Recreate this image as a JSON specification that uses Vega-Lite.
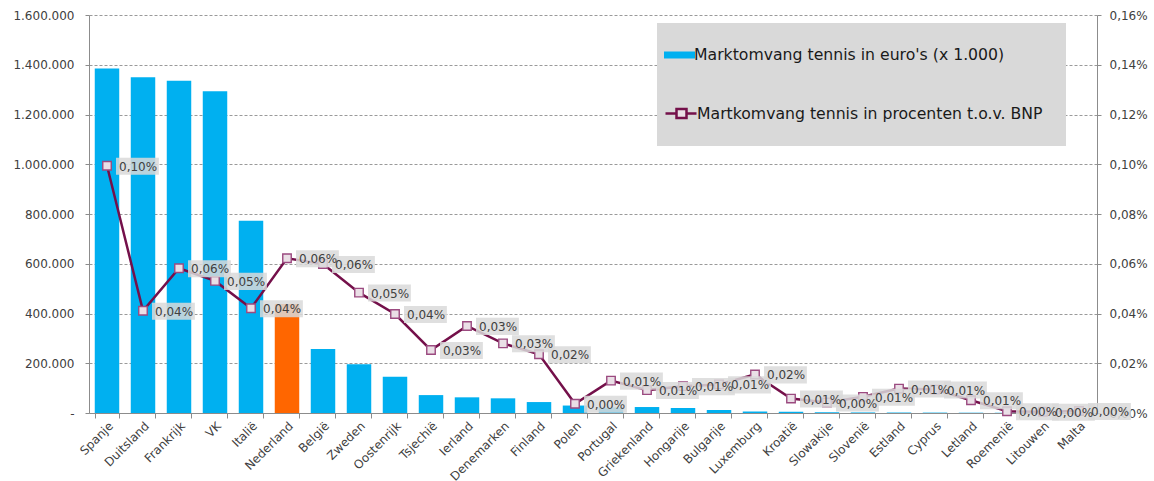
{
  "$schema": "https://vega.github.io/schema/vega-lite/v6.json",
  "width": 1008,
  "height": 398,
  "autosize": "none",
  "padding": {"left": 89, "top": 15, "right": 57, "bottom": 68},
  "background": "white",
  "config": {
    "font": "DejaVu Sans",
    "view": {"stroke": null},
    "axis": {"labelFont": "DejaVu Sans", "labelFontSize": 12, "labelColor": "#404040", "domainColor": "#8c8c8c", "tickColor": "#8c8c8c", "title": null}
  },
  "data": {"values": [
    {"land": "Spanje", "omvang": 1385000, "pct": 0.000994},
    {"land": "Duitsland", "omvang": 1350000, "pct": 0.000411},
    {"land": "Frankrijk", "omvang": 1336000, "pct": 0.000582},
    {"land": "VK", "omvang": 1293000, "pct": 0.000531},
    {"land": "Italië", "omvang": 773000, "pct": 0.000421},
    {"land": "Nederland", "omvang": 438000, "pct": 0.000622},
    {"land": "België", "omvang": 257000, "pct": 0.000599},
    {"land": "Zweden", "omvang": 196000, "pct": 0.000484},
    {"land": "Oostenrijk", "omvang": 146000, "pct": 0.000398},
    {"land": "Tsjechië", "omvang": 72000, "pct": 0.000253},
    {"land": "Ierland", "omvang": 63000, "pct": 0.00035},
    {"land": "Denemarken", "omvang": 59000, "pct": 0.00028},
    {"land": "Finland", "omvang": 44000, "pct": 0.000236},
    {"land": "Polen", "omvang": 30000, "pct": 0.000037},
    {"land": "Portugal", "omvang": 22000, "pct": 0.00013},
    {"land": "Griekenland", "omvang": 24000, "pct": 0.000092},
    {"land": "Hongarije", "omvang": 20000, "pct": 0.000108},
    {"land": "Bulgarije", "omvang": 12000, "pct": 0.000115},
    {"land": "Luxemburg", "omvang": 6000, "pct": 0.000155},
    {"land": "Kroatië", "omvang": 5000, "pct": 0.000058},
    {"land": "Slowakije", "omvang": 3000, "pct": 0.000042},
    {"land": "Slovenië", "omvang": 2300, "pct": 0.000065},
    {"land": "Estland", "omvang": 1900, "pct": 0.000098},
    {"land": "Cyprus", "omvang": 1600, "pct": 0.000094},
    {"land": "Letland", "omvang": 1200, "pct": 0.000051},
    {"land": "Roemenië", "omvang": 1000, "pct": 0.000007},
    {"land": "Litouwen", "omvang": 300, "pct": 0.000005},
    {"land": "Malta", "omvang": 100, "pct": 0.000008}
  ]},
  "layer": [
    {
      "mark": {"type": "bar"},
      "encoding": {
        "x": {"field": "land", "type": "nominal", "sort": null,
          "scale": {"paddingInner": 0.32, "paddingOuter": 0.16},
          "axis": {"title": null, "labelAngle": -45, "tickBand": "extent", "tickSize": 5, "labelPadding": 2, "grid": false}},
        "y": {"field": "omvang", "type": "quantitative",
          "scale": {"domain": [0, 1600000], "nice": false},
          "axis": {"title": null, "values": [0, 200000, 400000, 600000, 800000, 1000000, 1200000, 1400000, 1600000],
            "format": ",.0f", "labelExpr": "datum.value === 0 ? '-\u00a0\u00a0\u00a0' : replace(datum.label, /,/g, '.')",
            "grid": true, "gridDash": [3, 2], "gridColor": "#9a9a9a", "tickSize": 4, "labelPadding": 11}},
        "color": {
          "condition": {"test": "datum.land === 'Nederland'", "value": "#FF6600"},
          "datum": "Marktomvang tennis in euro's (x 1.000)",
          "scale": {"domain": ["Marktomvang tennis in euro's (x 1.000)"], "range": ["#00B0F0"]},
          "legend": {
            "orient": "none", "legendX": 568, "legendY": 8, "title": null, "zindex": 3,
            "fillColor": "#D9D9D9", "padding": 7, "symbolSize": 2500,
            "symbolType": "M-1,-0.14H0.24V0.14H-1Z", "symbolStrokeWidth": 0,
            "labelFontSize": 15.7, "labelColor": "#1a1a1a", "labelFont": "DejaVu Sans",
            "labelOffset": -20, "labelLimit": 700
          }
        }
      }
    },
    {
      "encoding": {
        "x": {"field": "land", "type": "nominal", "sort": null},
        "y": {"field": "pct", "type": "quantitative",
          "scale": {"domain": [0, 0.0016], "nice": false},
          "axis": {"orient": "right", "title": null, "values": [0, 0.0002, 0.0004, 0.0006, 0.0008, 0.001, 0.0012, 0.0014, 0.0016],
            "format": ".2%", "labelExpr": "replace(datum.label, '.', ',')", "grid": false, "tickSize": 4, "labelPadding": 8}}
      },
      "layer": [
        {
          "mark": {"type": "line", "strokeWidth": 2.5},
          "encoding": {"stroke": {
            "datum": "Martkomvang tennis in procenten t.o.v. BNP",
            "scale": {"domain": ["Martkomvang tennis in procenten t.o.v. BNP"], "range": ["#74104A"]},
            "legend": {
              "orient": "none", "legendX": 568, "legendY": 8, "zindex": 1,
              "title": "\u00a0", "titleFontSize": 32, "titlePadding": 9,
              "fillColor": "#D9D9D9", "padding": 23, "symbolSize": 2500,
              "symbolType": "M-1.64,0H-1.2M-0.8,0H-0.4M-1.2,-0.18H-0.8V0.18H-1.2Z",
              "symbolFillColor": "#EADFE6", "symbolStrokeWidth": 2.5,
              "labelFontSize": 15.7, "labelColor": "#1a1a1a", "labelFont": "DejaVu Sans",
              "labelOffset": -36, "labelLimit": 700
            }
          }}
        },
        {
          "mark": {"type": "point", "shape": "square", "filled": true, "fill": "#EADFE6", "stroke": "#9B4A80", "strokeWidth": 1.4, "size": 72, "opacity": 1},
          "encoding": {}
        },
        {
          "mark": {"type": "point", "shape": "M0.3,-0.27H1.73V0.3H0.3Z", "filled": true, "fill": "#D9D9D9", "fillOpacity": 0.85, "strokeWidth": 0, "size": 3600, "opacity": 1},
          "encoding": {}
        },
        {
          "transform": [{"calculate": "replace(format(datum.pct, '.2%'), '.', ',')", "as": "lbl"}],
          "mark": {"type": "text", "align": "left", "baseline": "middle", "dx": 12, "dy": 1, "fontSize": 12, "color": "#404040"},
          "encoding": {"text": {"field": "lbl", "type": "nominal"}}
        }
      ]
    }
  ],
  "resolve": {"scale": {"y": "independent"}}
}
